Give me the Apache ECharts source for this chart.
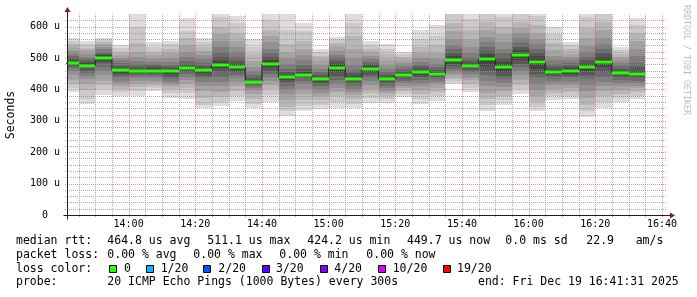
<!DOCTYPE html>
<html><head><meta charset="utf-8">
<script src="https://cdn.jsdelivr.net/npm/echarts@6/dist/echarts.min.js"></script>
<style>html,body{margin:0;padding:0;background:#fff}#c{width:697px;height:297px}</style>
</head><body><div id="c"></div>
<script>
// ---------------- DATA ----------------
const axisStartTime = '13:41:31';
const axisEndTime = '16:41:31';
const stepMinutes = 5;
const barEndTimes = ['13:45','13:50','13:55','14:00','14:05','14:10','14:15','14:20','14:25','14:30','14:35','14:40','14:45','14:50','14:55','15:00','15:05','15:10','15:15','15:20','15:25','15:30','15:35','15:40','15:45','15:50','15:55','16:00','16:05','16:10','16:15','16:20','16:25','16:30','16:35'];
// median rtt per step (us)
const medians = [483,475,499,461,458,460,457,467,461,478,471,424,481,438,445,432,469,434,464,433,446,455,449,493,474,497,472,510,486,455,459,471,488,453,450];
// 20 sorted ping rtts per step (us)
const pings = [
[392,404,418,430,445,458,468,474,478,481,485,490,497,505,512,522,534,545,555,565],
[353,368,398,418,432,442,452,460,468,473,477,483,490,497,503,512,525,533,545,555],
[382,400,414,428,445,460,472,483,490,496,502,508,514,520,527,535,545,552,560,565],
[380,392,402,412,420,428,438,446,453,459,463,468,475,483,492,500,510,520,532,541],
[380,395,407,418,428,437,444,449,454,457,460,465,472,480,490,503,520,547,600,660],
[396,405,412,420,428,436,443,449,455,459,462,467,473,480,488,497,508,520,535,550],
[372,388,400,410,418,425,432,440,448,455,459,464,470,478,488,500,515,530,545,555],
[369,388,404,418,430,440,448,455,461,465,469,474,480,490,503,520,540,565,585,626],
[341,350,372,395,412,425,435,443,452,459,463,468,475,485,497,510,522,535,550,562],
[347,360,375,392,410,425,440,455,467,475,481,490,502,518,535,555,575,600,630,660],
[364,378,395,410,425,437,446,455,463,469,473,480,490,503,518,535,555,580,610,633],
[340,352,370,385,397,405,412,416,420,423,426,430,438,446,458,472,490,512,535,559],
[361,382,400,415,428,440,450,460,470,478,484,492,502,515,530,550,570,590,620,660],
[315,330,345,365,385,400,412,422,430,436,440,446,455,465,480,500,520,545,590,660],
[331,348,365,385,402,418,428,436,441,444,448,455,465,478,492,510,530,555,585,610],
[338,350,365,378,390,400,410,418,425,430,434,440,447,455,465,478,492,505,518,530],
[340,360,378,392,405,418,430,442,455,466,472,480,490,500,510,522,535,548,560,568],
[340,355,370,382,392,402,412,420,427,432,437,444,452,462,478,500,530,570,610,660],
[356,372,388,402,415,427,438,447,455,461,467,473,480,488,497,507,518,530,542,555],
[357,368,378,388,396,404,412,419,426,431,435,440,447,455,465,478,495,512,530,546],
[377,386,395,404,412,420,427,434,440,444,448,453,459,466,474,483,492,502,512,520],
[353,370,385,398,410,420,430,439,447,453,457,463,470,478,488,500,515,535,560,589],
[364,378,392,405,416,425,433,440,445,448,451,456,462,470,482,497,515,540,570,605],
[416,425,433,442,450,458,466,474,482,490,496,505,515,528,542,560,585,610,640,660],
[392,405,418,430,440,448,456,463,468,472,476,482,490,500,515,535,560,590,625,660],
[331,350,370,390,410,428,445,460,475,490,503,512,522,535,550,568,590,615,640,660],
[350,365,380,395,408,420,432,443,455,467,477,488,500,515,530,550,575,600,630,660],
[385,400,415,430,445,458,470,482,495,505,515,525,535,548,562,578,595,615,640,660],
[331,345,360,378,398,418,435,450,465,480,492,505,518,530,545,560,580,605,635,660],
[366,378,390,402,414,425,434,442,448,453,457,462,470,480,492,507,525,548,575,600],
[368,380,392,404,415,425,435,443,450,456,462,468,475,483,492,502,514,527,540,552],
[313,330,350,372,395,415,432,447,460,469,474,482,492,503,518,538,565,595,630,660],
[340,360,378,395,410,425,440,455,470,484,492,502,515,530,545,565,590,615,640,660],
[359,372,385,398,410,420,430,438,445,450,455,460,466,474,483,493,503,513,524,535],
[369,380,392,403,412,420,428,435,441,447,452,460,470,485,505,528,555,580,605,626]
];
const xTickLabels = ['14:00','14:20','14:40','15:00','15:20','15:40','16:00','16:20','16:40'];
const yTickValues = [0,100,200,300,400,500,600];
const yTickLabels = ['0','100 u','200 u','300 u','400 u','500 u','600 u'];
const yMaxValue = 640;
const yMinorStep = 20;
const yAxisName = 'Seconds';
const watermark = 'RRDTOOL / TOBI OETIKER';
const statsLine1 = ['median rtt:','464.8 us avg','511.1 us max','424.2 us min','449.7 us now','0.0 ms sd','22.9','am/s'];
const statsLine2 = ['packet loss:','0.00 % avg','0.00 % max','0.00 % min','0.00 % now'];
const lossTitle = 'loss color:';
const lossLabels = ['0','1/20','2/20','3/20','4/20','10/20','19/20'];
const lossColors = ['#26ff00','#00b8ff','#0059ff','#5e00ff','#7e00ff','#dd00ff','#ff0000'];
const probeLine = ['probe:','20 ICMP Echo Pings (1000 Bytes) every 300s','end: Fri Dec 19 16:41:31 2025'];

// ---------------- LAYOUT / STYLE ----------------
const FONT = '"DejaVu Sans Mono", monospace';
const line1X = [16,107.3,207.3,307.3,407,505.3,586.3,635.7];
const line2X = [16,107.3,193.3,279.3,366.3];
const boxX = [109,146,203,262,320,378,443];
const lossLabelX = [124,160.7,218.3,276,334.3,392.7,457];
const line4X = [16,107.3,478];
const lineY = [241.3,254.7,268.7,282.3];
const MGRID = 'rgba(222,79,79,0.6)';
const GRID = 'rgba(143,143,143,0.75)';
const AXIS = '#1f1f1f';
const ARROW = '#7f1f1f';

function toMin(s){ const p = s.split(':').map(Number); return p[0]*60 + p[1] + (p[2]||0)/60; }
const xMin = toMin(axisStartTime), xMax = toMin(axisEndTime);
const majorX = xTickLabels.map(toMin);

// grid line positions
const minorXs = [], majorXs = [], minorYs = [], majorYs = [];
for (let m = Math.ceil(xMin/stepMinutes)*stepMinutes; m <= xMax; m += stepMinutes) (majorX.indexOf(m) >= 0 ? majorXs : minorXs).push(m);
for (let v = yMinorStep; v < yMaxValue; v += yMinorStep) (yTickValues.indexOf(v) >= 0 ? majorYs : minorYs).push(v);

const ends = barEndTimes.map(toMin);
const smokeData = ends.map((e,i) => [e - stepMinutes, e].concat(pings[i]));
const medData = ends.map((e,i) => [e - stepMinutes, e, medians[i]]);
const stepLine = ends.map((e,i) => [e - stepMinutes, medians[i]]);
stepLine.push([ends[ends.length-1], medians[medians.length-1]]);

// smokeping smoke shades
const shades = [];
for (let k = 1; k <= 10; k++) { const c = Math.floor(190/10*(10-k)) + 50; shades.push('rgb(' + c + ',' + c + ',' + c + ')'); }

const graphics = [];
graphics.push({type:'text', x:11, y:115, rotation:Math.PI/2, style:{text:yAxisName, font:'11.5px ' + FONT, fill:'#000', align:'center', verticalAlign:'middle'}});
graphics.push({type:'text', x:686, y:60, rotation:-Math.PI/2, style:{text:watermark, font:'8.3px ' + FONT, fill:'#bdbdbd', align:'center', verticalAlign:'middle'}});
function addText(t, x, y){ graphics.push({type:'text', x:x, y:y, style:{text:t, font:'11.5px ' + FONT, fill:'#000', align:'left', verticalAlign:'middle'}}); }
statsLine1.forEach((t,i) => addText(t, line1X[i], lineY[0]));
statsLine2.forEach((t,i) => addText(t, line2X[i], lineY[1]));
addText(lossTitle, 16, lineY[2]);
lossLabels.forEach((t,i) => {
  graphics.push({type:'rect', shape:{x:boxX[i]+0.5, y:265.5, width:7, height:7}, style:{fill:lossColors[i], stroke:'#000', lineWidth:1}});
  addText(t, lossLabelX[i], lineY[2]);
});
probeLine.forEach((t,i) => addText(t, line4X[i], lineY[3]));

function gridPath(api, xs, ys){
  const o = api.coord([xMin, 0]), e = api.coord([xMax, yMaxValue]);
  const bottom = Math.round(o[1]), top = Math.round(e[1]), left = Math.round(o[0]), right = Math.round(e[0]);
  let d = '';
  xs.forEach(v => { const x = Math.round(api.coord([v, 0])[0]) + 0.5; d += 'M' + x + ' ' + top + 'L' + x + ' ' + (bottom + 2); });
  ys.forEach(v => { const y = Math.round(api.coord([xMin, v])[1]) + 0.5; d += 'M' + (left - 2) + ' ' + y + 'L' + right + ' ' + y; });
  return d;
}

const chart = echarts.init(document.getElementById('c'), null, {renderer:'canvas'});
chart.setOption({
  animation:false,
  backgroundColor:'#fff',
  grid:{left:67, right:30, top:14, bottom:82},
  xAxis:{type:'value', min:xMin, max:xMax,
    axisLine:{show:false}, axisTick:{show:false}, splitLine:{show:false},
    axisLabel:{show:true, customValues:majorX, margin:4, color:'#000', fontFamily:FONT, fontSize:10,
      formatter:(v) => xTickLabels[majorX.indexOf(v)] || ''}},
  yAxis:{type:'value', min:0, max:yMaxValue,
    axisLine:{show:false}, axisTick:{show:false}, splitLine:{show:false},
    axisLabel:{show:true, customValues:yTickValues, margin:7, color:'#000', fontFamily:FONT, fontSize:10,
      formatter:(v) => { const s = yTickLabels[yTickValues.indexOf(v)] || ''; return s.length < 3 ? s + '\u00a0\u00a0' : s; }}},
  series:[
    {type:'custom', name:'smoke', clip:true, z:1,
     encode:{x:[0,1], y:[2,21]},
     data:smokeData,
     renderItem:function(params, api){
       const x0 = api.value(0), x1 = api.value(1);
       const children = [];
       for (let k = 0; k < 10; k++) {
         const lo = api.value(2 + k), hi = api.value(21 - k);
         const a = api.coord([x0, hi]), b = api.coord([x1, lo]);
         const L = Math.round(a[0]), R = Math.round(b[0]), T = Math.round(a[1]), B = Math.round(b[1]);
         children.push({type:'rect', shape:{x:L, y:T, width:R-L, height:B-T}, style:{fill:shades[k]}});
       }
       return {type:'group', children:children};
     }},
    {type:'custom', name:'grid', clip:false, z:2, silent:true,
     encode:{x:0, y:1},
     data:[[xMin, 0]],
     renderItem:function(params, api){
       return {type:'group', children:[
         {type:'path', shape:{pathData:gridPath(api, minorXs, minorYs)}, style:{fill:null, stroke:GRID, lineWidth:1, lineDash:[1,1]}},
         {type:'path', shape:{pathData:gridPath(api, majorXs, majorYs)}, style:{fill:null, stroke:MGRID, lineWidth:1, lineDash:[1,1]}}
       ]};
     }},
    {type:'line', name:'median', data:stepLine, step:'end', showSymbol:false, symbol:'none',
     lineStyle:{color:'#202020', width:1}, z:3, clip:true},
    {type:'custom', name:'medianLoss', clip:true, z:4,
     encode:{x:[0,1], y:2},
     data:medData,
     renderItem:function(params, api){
       const a = api.coord([api.value(0), api.value(2)]), b = api.coord([api.value(1), api.value(2)]);
       const L = Math.round(a[0]), R = Math.round(b[0]);
       return {type:'rect', shape:{x:L, y:Math.round(a[1]) - 1.5, width:R-L, height:3}, style:{fill:lossColors[0]}};
     }},
    {type:'custom', name:'axes', clip:false, z:5, silent:true,
     encode:{x:0, y:1},
     data:[[xMin, 0]],
     renderItem:function(params, api){
       const o = api.coord([xMin, 0]), e = api.coord([xMax, yMaxValue]);
       const ox = Math.round(o[0]) + 0.5, oy = Math.round(o[1]) + 0.5;
       const ex = Math.round(e[0]), ey = Math.round(e[1]);
       return {type:'group', children:[
         {type:'line', shape:{x1:ox - 4, y1:oy, x2:ex + 4, y2:oy}, style:{stroke:AXIS, lineWidth:1}},
         {type:'line', shape:{x1:ox, y1:oy + 4, x2:ox, y2:ey - 3}, style:{stroke:AXIS, lineWidth:1}},
         {type:'polygon', shape:{points:[[ex + 3, oy - 3], [ex + 8, oy], [ex + 3, oy + 3]]}, style:{fill:ARROW}},
         {type:'polygon', shape:{points:[[ox - 3, ey - 2], [ox, ey - 7], [ox + 3, ey - 2]]}, style:{fill:ARROW}}
       ]};
     }}
  ],
  graphic:graphics
});
</script>
</body></html>
